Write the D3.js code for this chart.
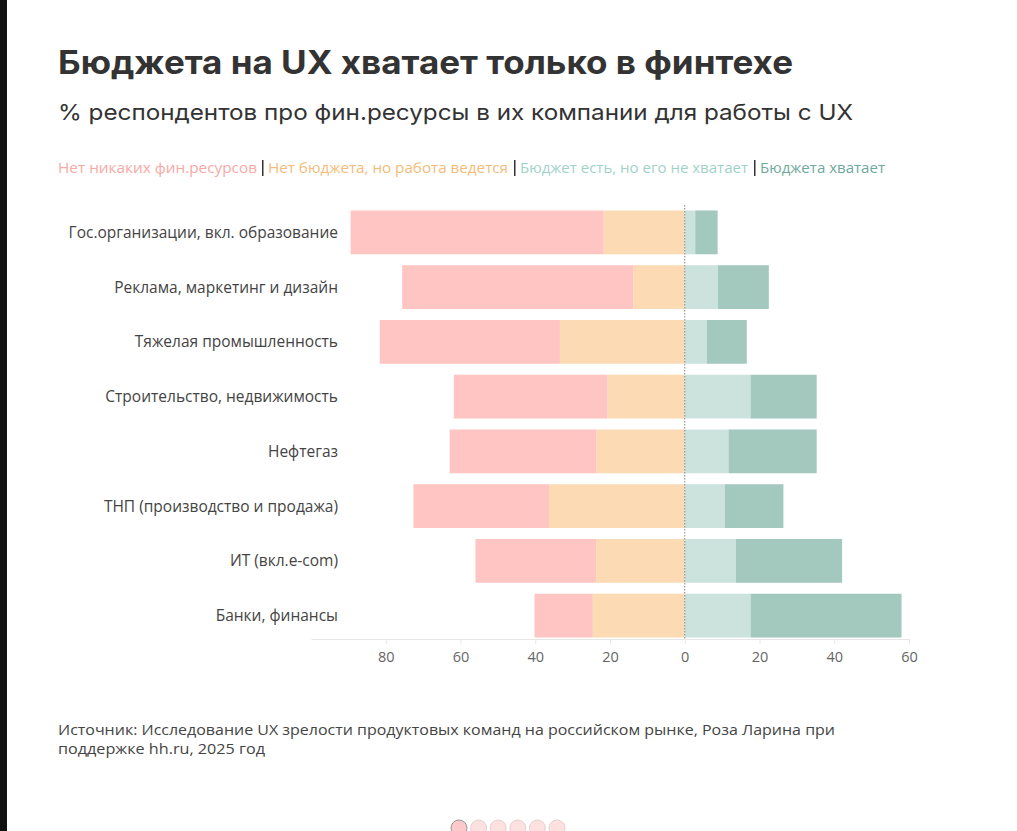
<!DOCTYPE html>
<html>
<head>
<meta charset="utf-8">
<script src="https://cdn.jsdelivr.net/npm/d3@7"></script>
<style>
  body { margin: 0; background: #fff; }
  svg { display: block; }
</style>
</head>
<body>
<div id="chart"></div>
<script>
// Categories (top to bottom)
const industries = [
  "Гос.организации, вкл. образование",
  "Реклама, маркетинг и дизайн",
  "Тяжелая промышленность",
  "Строительство, недвижимость",
  "Нефтегаз",
  "ТНП (производство и продажа)",
  "ИТ (вкл.e-com)",
  "Банки, финансы"
];

// Series values, % of respondents
const noResources = [67.7, 61.9, 48.2, 41.1, 39.3, 36.3, 32.3, 15.6];
const noBudgetWork = [21.7, 13.7, 33.4, 20.7, 23.6, 36.3, 23.7, 24.6];
const notEnough = [2.8, 8.9, 5.9, 17.6, 11.7, 10.7, 13.7, 17.6];
const enough = [6.0, 13.6, 10.7, 17.7, 23.6, 15.7, 28.4, 40.4];

const seriesNames = [
  "Нет никаких фин.ресурсов",
  "Нет бюджета, но работа ведется",
  "Бюджет есть, но его не хватает",
  "Бюджета хватает"
];
const xTicks = [-80, -60, -40, -20, 0, 20, 40, 60];

const barColors = ["#fec5c2", "#fcdab3", "#cce3dd", "#a3c9bf"];
const legendColors = ["#f7a9a5", "#f5bb78", "#9fd3c8", "#6fa99b"];

const width = 1017, height = 831;

const svg = d3.select("#chart").append("svg")
  .attr("width", width)
  .attr("height", height)
  .style("font-family", "'Open Sans', sans-serif");

svg.append("rect").attr("width", width).attr("height", height).attr("fill", "#fff");
// dark strip on the left edge of the screenshot
svg.append("rect").attr("width", 7).attr("height", height).attr("fill", "#111");

// Title + subtitle
svg.append("text")
  .attr("x", 58).attr("y", 74)
  .attr("font-family", "Inter, 'Open Sans', sans-serif")
  .attr("font-weight", 700)
  .attr("font-size", 33)
  .attr("textLength", 735)
  .attr("lengthAdjust", "spacingAndGlyphs")
  .attr("fill", "#333")
  .text("Бюджета на UX хватает только в финтехе");

svg.append("text")
  .attr("x", 58).attr("y", 120)
  .attr("font-family", "Inter, 'Open Sans', sans-serif")
  .attr("font-size", 22)
  .attr("textLength", 795)
  .attr("lengthAdjust", "spacingAndGlyphs")
  .attr("fill", "#333")
  .text("% респондентов про фин.ресурсы в их компании для работы с UX");

// Legend
const legendX = [58, 268, 520, 760];
const legendW = [199, 240, 228, 125];
const legend = svg.append("g").attr("transform", "translate(0,173)");
seriesNames.forEach((name, i) => {
  if (i > 0) {
    legend.append("rect")
      .attr("x", legendX[i] - 6).attr("y", -13)
      .attr("width", 1.5).attr("height", 16)
      .attr("fill", "#333");
  }
  legend.append("text")
    .attr("x", legendX[i]).attr("y", 0)
    .attr("font-size", 15)
    .attr("textLength", legendW[i])
    .attr("lengthAdjust", "spacingAndGlyphs")
    .attr("fill", legendColors[i])
    .text(name);
});

// Scales
const x = d3.scaleLinear().domain([-100, 60]).range([311, 909]);
const y = d3.scaleBand().domain(industries).range([205, 643])
  .paddingInner(0.2).paddingOuter(0.1);

// Build stacked segments: left side outward from 0, right side outward from 0
const segments = [];
industries.forEach((name, i) => {
  const b = noBudgetWork[i], n = noResources[i];
  const ne = notEnough[i], e = enough[i];
  segments.push({ name, s: 1, x0: -b, x1: 0 });
  segments.push({ name, s: 0, x0: -(b + n), x1: -b });
  segments.push({ name, s: 2, x0: 0, x1: ne });
  segments.push({ name, s: 3, x0: ne, x1: ne + e });
});

svg.append("g")
  .selectAll("rect")
  .data(segments)
  .join("rect")
    .attr("x", d => x(d.x0))
    .attr("width", d => x(d.x1) - x(d.x0))
    .attr("y", d => y(d.name))
    .attr("height", y.bandwidth())
    .attr("fill", d => barColors[d.s]);

// zero line
svg.append("line")
  .attr("x1", x(0)).attr("x2", x(0))
  .attr("y1", 205).attr("y2", 639)
  .attr("stroke", "#888")
  .attr("stroke-width", 1)
  .attr("stroke-dasharray", "1.5,1.5");

// Category labels
svg.append("g")
  .selectAll("text")
  .data(industries)
  .join("text")
    .attr("x", 338)
    .attr("y", d => y(d) + y.bandwidth() / 2)
    .attr("dy", "0.35em")
    .attr("text-anchor", "end")
    .attr("font-size", 15.5)
    .attr("fill", "#444")
    .text(d => d);

// X axis
const xAxis = svg.append("g")
  .attr("transform", "translate(0,639)")
  .call(d3.axisBottom(x).tickValues(xTicks)
    .tickFormat(d => Math.abs(d))
    .tickSize(5).tickSizeOuter(0));
xAxis.select(".domain").attr("stroke", "#e6e6e6");
xAxis.selectAll(".tick line").attr("stroke", "#e6e6e6");
xAxis.selectAll(".tick text")
  .attr("font-family", "'Open Sans', sans-serif")
  .attr("font-size", 14.5)
  .attr("fill", "#666")
  .attr("dy", "1.05em");

// Source note
const source = svg.append("text")
  .attr("font-size", 15)
  .attr("lengthAdjust", "spacingAndGlyphs")
  .attr("fill", "#444");
source.append("text");
svg.append("text")
  .attr("x", 58).attr("y", 735)
  .attr("font-size", 15)
  .attr("textLength", 777)
  .attr("lengthAdjust", "spacingAndGlyphs")
  .attr("fill", "#444")
  .text("Источник: Исследование UX зрелости продуктовых команд на российском рынке, Роза Ларина при");
svg.append("text")
  .attr("x", 58).attr("y", 754)
  .attr("font-size", 15)
  .attr("textLength", 207)
  .attr("lengthAdjust", "spacingAndGlyphs")
  .attr("fill", "#444")
  .text("поддержке hh.ru, 2025 год");

// pager dots at the bottom
const dots = d3.range(6);
svg.append("g")
  .selectAll("circle")
  .data(dots)
  .join("circle")
    .attr("cx", d => 459 + d * 19.6)
    .attr("cy", 828)
    .attr("r", 8)
    .attr("fill", d => d === 0 ? "#fbc9c9" : "#fde0e0")
    .attr("stroke", d => d === 0 ? "#999" : "#e8d0d0")
    .attr("stroke-width", 1);
</script>
</body>
</html>
